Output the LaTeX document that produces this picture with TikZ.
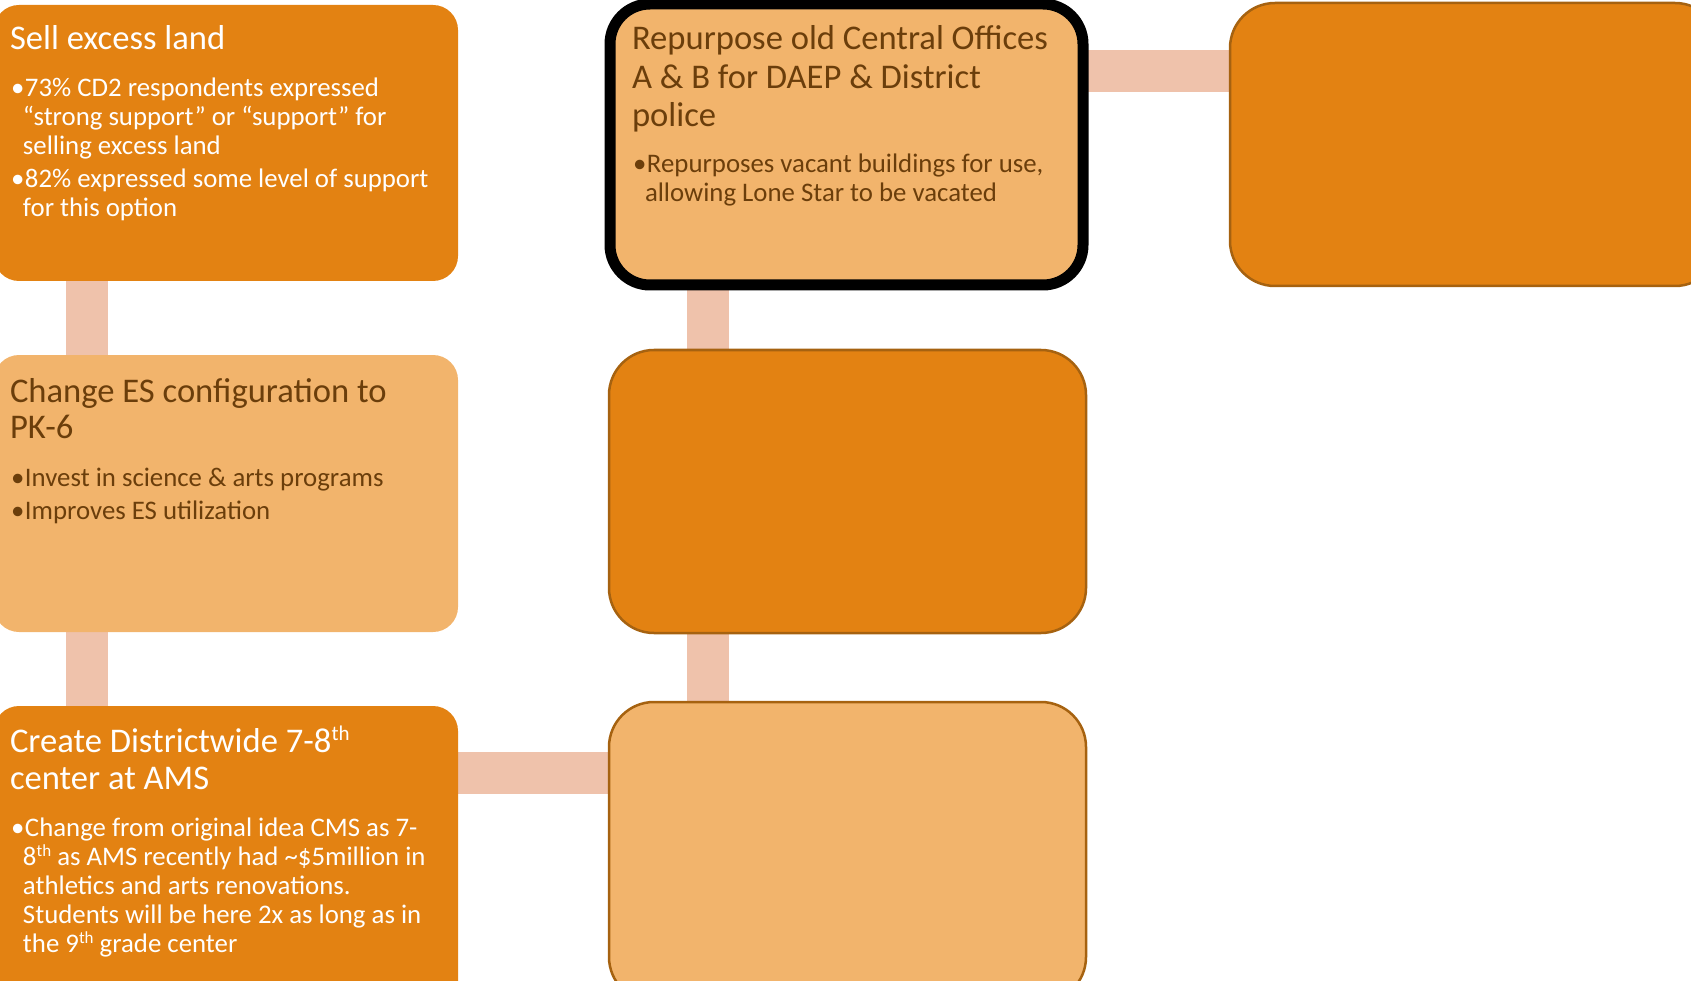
\documentclass[tikz,border=0pt]{standalone}
\usepackage{fontspec}
\setmainfont{Carlito}
\usetikzlibrary{backgrounds}

\definecolor{deeporange}{HTML}{E38212}
\definecolor{paleorange}{HTML}{F2B46C}
\definecolor{linkpink}{HTML}{EFC2AB}
\definecolor{barkbrown}{HTML}{6B3E0B}
\definecolor{rimbrown}{HTML}{A66210}

% heading lines: 34.6pt type, optional line pitch
\newcommand\titleblock[2][36.5]{\parbox[t]{480pt}{\fontsize{34.6}{#1}\selectfont
  \lineskiplimit=-50pt\relax\rightskip=0pt plus 1fil\relax\noindent #2}}
% bulleted body text
\newcommand\bulletblock[1]{\parbox[t]{480pt}{\fontsize{26.8}{29}\selectfont
  \lineskiplimit=-50pt\relax\rightskip=0pt plus 1fil\relax\parskip=4pt\relax #1}}
\newcommand\bitem{\par\hangindent=12pt\hangafter=1\noindent\makebox[14pt][l]{•}}
% raised ordinal endings
\newcommand\suph[1]{\raisebox{12pt}{\fontsize{21}{21}\selectfont #1}}
\newcommand\supb[1]{\raisebox{9pt}{\fontsize{17}{17}\selectfont #1}}

\begin{document}
\begin{tikzpicture}[x=1pt,y=-1pt,
  panel/.style={rectangle, draw=none, rounded corners=25pt, anchor=north west,
    inner sep=0pt, outer sep=0pt},
  blank/.style={rectangle, draw=rimbrown, line width=2.5pt, rounded corners=45pt,
    anchor=north west, inner sep=0pt, outer sep=0pt},
  link/.style={draw=linkpink, line width=42pt},
  words/.style={anchor=base west, inner sep=0pt, outer sep=0pt}]

\clip (0,0) rectangle (1691,981);

% left column
\node[panel, fill=deeporange, minimum width=464pt, minimum height=276pt] (b1) at (-6,5) {};
\node[panel, fill=paleorange, minimum width=464pt, minimum height=277pt] (b2) at (-6,355) {};
\node[panel, fill=deeporange, minimum width=464pt, minimum height=300pt] (b3) at (-6,706) {};

% middle column
\node[rectangle, draw=black, line width=11pt, fill=paleorange, rounded corners=40pt,
  anchor=north west, inner sep=0pt, outer sep=0pt,
  minimum width=473pt, minimum height=281pt] (mA) at (610,4) {};
\node[blank, fill=deeporange, minimum width=477pt, minimum height=283pt] (mB) at (609,350) {};
\node[blank, fill=paleorange, minimum width=477pt, minimum height=300pt] (mC) at (609,702) {};

% right column
\node[blank, fill=deeporange, minimum width=490pt, minimum height=283pt] (rR) at (1230,3) {};

% connecting bars
\begin{scope}[on background layer]
  \draw[link] ([xshift=93pt]b1.south west) -- ([xshift=93pt]b2.north west);
  \draw[link] ([xshift=93pt]b2.south west) -- ([xshift=93pt]b3.north west);
  \draw[link] ([yshift=-67pt]b3.north east) -- ([yshift=-71pt]mC.north west);
  \draw[link] ([xshift=98pt]mA.south west) -- ([xshift=99pt]mB.north west);
  \draw[link] ([xshift=99pt]mB.south west) -- ([xshift=99pt]mC.north west);
  \draw[link] ([yshift=-67.5pt]mA.north east) -- ([yshift=-68.5pt]rR.north west);
\end{scope}

% texts
\node[words, text=white] (t1) at (10,50) {\titleblock{Sell excess land}};
\node[words, text=white] (t1b) at (11,97) {\bulletblock{\bitem 73\% CD2 respondents expressed\\
  “strong support” or “support” for\\selling excess land
  \bitem 82\% expressed some level of support\\for this option}};

\node[words, text=barkbrown] (t2) at (10,402) {\titleblock{Change ES configuration to\\PK-6}};
\node[words, text=barkbrown] (t2b) at (11,486) {\bulletblock{\bitem Invest in science \& arts programs
  \bitem Improves ES utilization}};

\node[words, text=white] (t3) at (10,752) {\titleblock[37]{Create Districtwide 7-8\suph{th}\\center at AMS}};
\node[words, text=white] (t3b) at (11,836) {\bulletblock{\bitem Change from original idea CMS as 7-\\
  8\supb{th} as AMS recently had \textasciitilde\$5million in\\
  athletics and arts renovations.\\
  Students will be here 2x as long as in\\
  the 9\supb{th} grade center}};

\node[words, text=barkbrown] (tA) at (632,50) {\titleblock[38.5]{Repurpose old Central Offices\\
  A \& B for DAEP \& District\\police}};
\node[words, text=barkbrown] (tAb) at (633,173) {\bulletblock{\bitem Repurposes vacant buildings for use,\\
  allowing Lone Star to be vacated}};

\end{tikzpicture}
\end{document}
